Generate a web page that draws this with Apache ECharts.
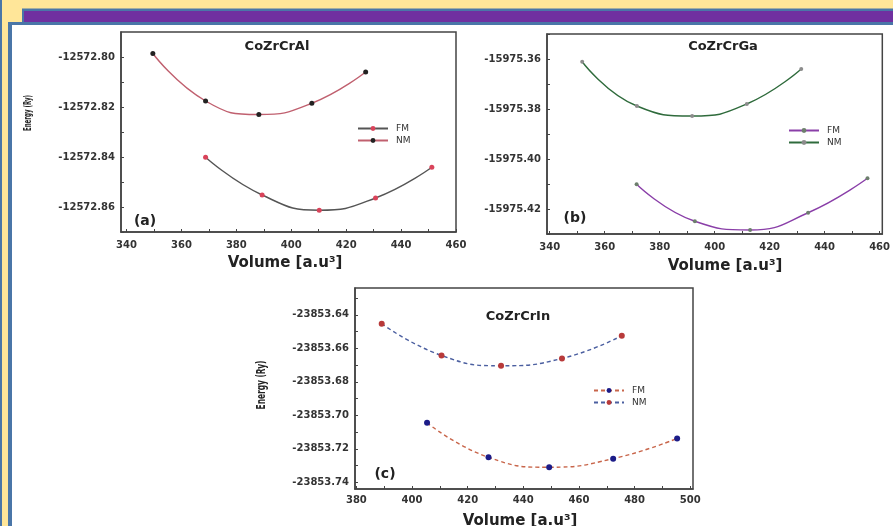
<!DOCTYPE html>
<html>
<head>
<meta charset="utf-8">
<script src="https://cdn.jsdelivr.net/npm/echarts@6/dist/echarts.min.js"></script>
<style>
html,body{margin:0;padding:0;background:#fff;}
#c{width:893px;height:526px;}
</style>
</head>
<body>
<div id="c"></div>
<script>
// ---- data ----
const volA_FM = [368.8, 389.4, 410.2, 430.7, 451.2];
const enA_FM  = [-12572.8401, -12572.8552, -12572.8613, -12572.8564, -12572.8441];
const volA_NM = [349.6, 368.8, 388.2, 407.5, 427.1];
const enA_NM  = [-12572.7986, -12572.8176, -12572.8230, -12572.8185, -12572.8060];

const volB_FM = [371.6, 392.8, 412.9, 434.0, 455.6];
const enB_FM  = [-15975.4101, -15975.4249, -15975.4284, -15975.4215, -15975.4077];
const volB_NM = [351.8, 371.7, 391.8, 411.7, 431.5];
const enB_NM  = [-15975.3611, -15975.3788, -15975.3828, -15975.3780, -15975.3640];

const volC_FM = [405.4, 427.5, 449.3, 472.3, 495.3];
const enC_FM  = [-23853.7045, -23853.7251, -23853.7310, -23853.7259, -23853.7138];
const volC_NM = [389.1, 410.6, 432.0, 453.9, 475.4];
const enC_NM  = [-23853.6453, -23853.6643, -23853.6704, -23853.6661, -23853.6525];

// tick labels
const xTicksAB = [340, 360, 380, 400, 420, 440, 460];
const xTicksC  = [380, 400, 420, 440, 460, 480, 500];
const yTicksA  = [-12572.86, -12572.84, -12572.82, -12572.80];
const yTicksB  = [-15975.42, -15975.40, -15975.38, -15975.36];
const yTicksC  = [-23853.74, -23853.72, -23853.70, -23853.68, -23853.66, -23853.64];

const titles = ['CoZrCrAl', 'CoZrCrGa', 'CoZrCrIn'];
const panelLabels = ['(a)', '(b)', '(c)'];
const xName = 'Volume [a.u\u00B3]';
const yName = 'Energy (Ry)';

function zip(a, b) { return a.map((v, i) => [v, b[i]]); }
function withMinor(ticks) {
  const out = [];
  for (let i = 0; i < ticks.length; i++) {
    out.push(ticks[i]);
    if (i < ticks.length - 1) out.push((ticks[i] + ticks[i + 1]) / 2);
  }
  out.push(ticks[0] - (ticks[1] - ticks[0]) / 2);
  out.push(ticks[ticks.length - 1] + (ticks[1] - ticks[0]) / 2);
  return out;
}

const axisCol = '#444';
const labFont = { fontFamily: 'DejaVu Sans', fontWeight: 'bold', fontSize: 10, color: '#333' };

function xAx(gi, min, max, ticks, margin) {
  return {
    type: 'value', gridIndex: gi, min: min, max: max,
    axisLine: { show: true, onZero: false, lineStyle: { color: axisCol, width: 1.5 } },
    axisTick: { show: true, inside: true, length: 3, customValues: withMinor(ticks), lineStyle: { color: axisCol } },
    axisLabel: Object.assign({ customValues: ticks, margin: margin, formatter: v => String(Math.round(v)) }, labFont),
    splitLine: { show: false }
  };
}
function yAx(gi, min, max, ticks) {
  return {
    type: 'value', gridIndex: gi, min: min, max: max,
    axisLine: { show: true, onZero: false, lineStyle: { color: axisCol, width: 1.5 } },
    axisTick: { show: true, inside: true, length: 3, customValues: withMinor(ticks), lineStyle: { color: axisCol } },
    axisLabel: Object.assign({ customValues: ticks, margin: 6, formatter: v => v.toFixed(2) }, labFont),
    splitLine: { show: false }
  };
}
function ser(name, xi, xs, ys, lineColor, markColor, size, dashed) {
  return {
    name: name, type: 'line', xAxisIndex: xi, yAxisIndex: xi,
    data: zip(xs, ys), smooth: true, symbol: 'circle', symbolSize: size, showSymbol: true,
    lineStyle: { color: lineColor, width: 1.4, type: dashed ? [4, 3] : 'solid' },
    itemStyle: { color: markColor },
    emphasis: { disabled: true }, animation: false
  };
}
function legend(left, top, names) {
  return {
    left: left, top: top, orient: 'vertical', itemGap: 3, itemWidth: 30, itemHeight: 6,
    data: names, formatter: n => n.split(' ')[0], selectedMode: false,
    textStyle: { fontFamily: 'DejaVu Sans', fontSize: 9, color: '#333', padding: [0, 0, 0, 3] }
  };
}
function txt(text, x, y, size, rot, sx) {
  return {
    type: 'text', x: x, y: y, rotation: rot || 0, scaleX: sx || 1, silent: true, z: 10,
    style: { text: text, x: 0, y: 0, textAlign: 'center', textVerticalAlign: 'middle',
             font: 'bold ' + size + 'px "DejaVu Sans"', fill: '#222' }
  };
}
function rect(x, y, w, h, fill) {
  return { type: 'rect', silent: true, shape: { x: x, y: y, width: w, height: h }, style: { fill: fill } };
}

const yellow = '#FFE699', blue = '#4A76A8', purple = '#7030A0';

const option = {
  backgroundColor: '#fff',
  animation: false,
  grid: [
    { left: 121, top: 32, width: 335, height: 200, show: true, borderColor: axisCol, borderWidth: 1.5, backgroundColor: 'transparent' },
    { left: 547, top: 34, width: 340, height: 200, show: true, borderColor: axisCol, borderWidth: 1.5, backgroundColor: 'transparent' },
    { left: 355, top: 288, width: 338, height: 201, show: true, borderColor: axisCol, borderWidth: 1.5, backgroundColor: 'transparent' }
  ],
  xAxis: [
    xAx(0, 338, 460, xTicksAB, 8),
    xAx(1, 339, 461, xTicksAB, 8),
    xAx(2, 379.5, 501, xTicksC, 6)
  ],
  yAxis: [
    yAx(0, -12572.87, -12572.79, yTicksA),
    yAx(1, -15975.43, -15975.35, yTicksB),
    yAx(2, -23853.744, -23853.624, yTicksC)
  ],
  legend: [
    legend(352, 119, ['FM a', 'NM a']),
    legend(783, 121, ['FM b', 'NM b']),
    legend(588, 381, ['FM c', 'NM c'])
  ],
  series: [
    ser('FM a', 0, volA_FM, enA_FM, '#555555', '#d9435a', 5, false),
    ser('NM a', 0, volA_NM, enA_NM, '#c0606f', '#222222', 5, false),
    ser('FM b', 1, volB_FM, enB_FM, '#8a3fa8', '#6d7f6d', 4, false),
    ser('NM b', 1, volB_NM, enB_NM, '#2f6b3c', '#8c8c8c', 4, false),
    ser('FM c', 2, volC_FM, enC_FM, '#c8654a', '#1c1c88', 6, true),
    ser('NM c', 2, volC_NM, enC_NM, '#4b5fa0', '#b83a3a', 6, true)
  ],
  graphic: [
    rect(0, 0, 893, 25, yellow),
    rect(0, 0, 12, 526, yellow),
    rect(0, 0, 2, 526, blue),
    rect(8, 22, 4, 504, blue),
    rect(8, 22, 885, 3, blue),
    rect(22, 8.5, 871, 16.5, blue),
    rect(24, 11, 869, 11, purple),
    txt(titles[0], 277, 47, 13),
    txt(titles[1], 723, 47, 13),
    txt(titles[2], 518, 317, 13),
    txt(panelLabels[0], 145, 221, 14),
    txt(panelLabels[1], 575, 218, 14),
    txt(panelLabels[2], 385, 474, 14),
    txt(xName, 285, 263, 15),
    txt(xName, 725, 266, 15),
    txt(xName, 520, 521, 15),
    txt(yName, 28, 113, 11, Math.PI / 2, 0.5),
    txt(yName, 262, 385, 12, Math.PI / 2, 0.62)
  ]
};

const chart = echarts.init(document.getElementById('c'), null, { renderer: 'canvas' });
chart.setOption(option);
</script>
</body>
</html>
